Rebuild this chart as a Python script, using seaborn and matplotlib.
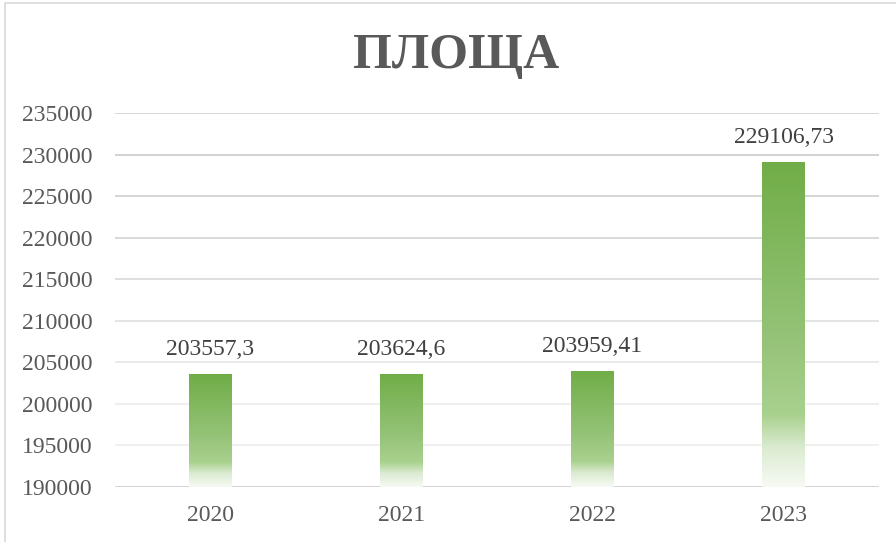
import matplotlib
matplotlib.use("Agg")
import matplotlib.pyplot as plt
import numpy as np
import pandas as pd
import seaborn as sns
from matplotlib.colors import LinearSegmentedColormap
from matplotlib.patches import Rectangle

# data
years = ["2020", "2021", "2022", "2023"]
area = [203557.3, 203624.6, 203959.41, 229106.73]
value_labels = ["203557,3", "203624,6", "203959,41", "229106,73"]
y_ticks = list(range(190000, 235001, 5000))

df = pd.DataFrame({"year": years, "area": area})

sns.set_theme(style="white")
plt.rcParams["font.family"] = ["Liberation Serif", "DejaVu Serif"]

fig = plt.figure(figsize=(8.96, 5.42), dpi=100)
ax = fig.add_axes([115 / 896, 1 - 487 / 542, 764 / 896, 374 / 542])

sns.barplot(data=df, x="year", y="area", ax=ax, width=0.225, color="#70AD47")

ax.set_ylim(190000, 235000)
ax.set_xlim(-0.5, 3.5)
ax.set_yticks(y_ticks)
ax.set_yticklabels([str(t) for t in y_ticks])
ax.set_xlabel("")
ax.set_ylabel("")
for s in ax.spines.values():
    s.set_visible(False)
ax.tick_params(axis="y", length=0, pad=16, labelsize=17, labelcolor="#595959")
ax.tick_params(axis="x", length=0, pad=13, labelsize=17, labelcolor="#595959")

# gridlines, slightly darker near the top and at the base like the reference
grid_cols = ["#cfcfcf", "#efefef", "#ededed", "#e8e8e8", "#e2e2e2",
             "#dcdcdc", "#d6d6d6", "#d2d2d2", "#cfcfcf", "#d4d4d4"]
for t, col in zip(y_ticks, grid_cols):
    ax.axhline(t, color=col, lw=1.3, zorder=0)

# vertical gradient inside each bar (dark green top -> white bottom)
cmap = LinearSegmentedColormap.from_list(
    "bar", [(0.0, "#70AD47"), (0.55, "#95C378"), (0.78, "#A9D18E"),
            (0.88, "#DBEBD1"), (1.0, "#F7FAF4")])
grad = np.linspace(0, 1, 256).reshape(-1, 1)
for p in ax.patches:
    x0, y0 = p.get_x(), p.get_y()
    w, h = p.get_width(), p.get_height()
    if h <= 0:
        continue
    im = ax.imshow(grad, cmap=cmap, aspect="auto",
                   extent=[x0, x0 + w, 190000, y0 + h], origin="upper", zorder=2)
    im.set_clip_path(p)
    p.set_facecolor("none")
    p.set_edgecolor("none")

ax.set_xlim(-0.5, 3.5)
ax.set_ylim(190000, 235000)

# value labels
for i, (v, lab) in enumerate(zip(area, value_labels)):
    ax.annotate(lab, (i, v), xytext=(0, 10), textcoords="offset points",
                ha="center", va="bottom", fontsize=17, color="#404040")

# title
fig.text(456 / 896, 1 - 56 / 542, "ПЛОЩА", ha="center", va="center",
         fontsize=36, fontweight="bold", color="#595959")

# chart frame
fig.patches.append(Rectangle((5 / 896, -0.05), 1.2, 1.05 - 3 / 542,
                             transform=fig.transFigure, fill=False,
                             edgecolor="#d9d9d9", lw=1.2))

plt.savefig("out.png", dpi=100)
